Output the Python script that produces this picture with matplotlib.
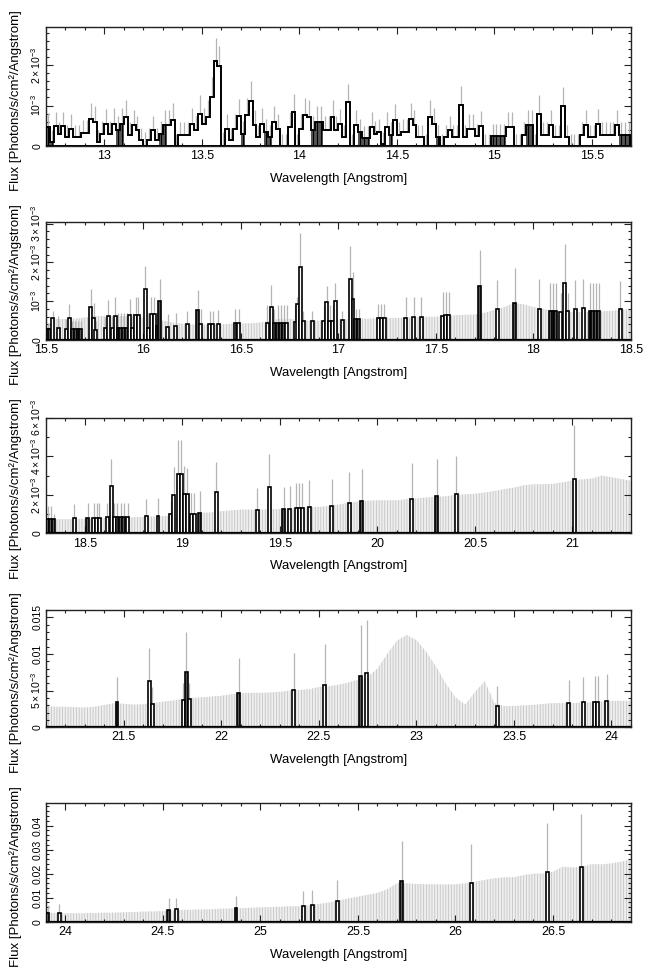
import numpy as np
import matplotlib
matplotlib.use('Agg')
import matplotlib.pyplot as plt
from matplotlib.ticker import MultipleLocator, FormatStrFormatter

plt.rcParams['font.family'] = ['Liberation Sans', 'DejaVu Sans']
plt.rcParams['mathtext.fontset'] = 'custom'
plt.rcParams['mathtext.rm'] = 'Liberation Sans'
plt.rcParams['mathtext.it'] = 'Liberation Sans:italic'
plt.rcParams['hatch.linewidth'] = 0.6

# all fluxes in units of 1e-3 photons/s/cm2/Angstrom
scale = 1e-3

# panel 1: fully binned spectrum, 0.02 A bins from 12.71 A
p1_flux = [0.47, 0.10, 0.49, 0.30, 0.49, 0.23, 0.43, 0.23, 0.23, 0.33,
           0.33, 0.66, 0.60, 0.10, 0.30, 0.54, 0.30, 0.55, 0.40, 0.55,
           0.72, 0.27, 0.51, 0.40, 0.15, 0.00, 0.15, 0.39, 0.15, 0.30,
           0.51, 0.51, 0.65, 0.00, 0.27, 0.27, 0.27, 0.55, 0.40, 0.80,
           0.55, 0.72, 1.20, 2.11, 1.98, 0.00, 0.43, 0.15, 0.43, 0.73,
           0.30, 0.76, 1.12, 0.51, 0.23, 0.55, 0.35, 0.23, 0.60, 0.43,
           0.00, 0.00, 0.47, 0.84, 0.00, 0.43, 0.76, 0.72, 0.39, 0.60,
           0.60, 0.39, 0.39, 0.72, 0.39, 0.54, 0.23, 1.08, 0.00, 0.51,
           0.35, 0.19, 0.19, 0.47, 0.30, 0.35, 0.06, 0.47, 0.27, 0.63,
           0.27, 0.35, 0.35, 0.67, 0.51, 0.21, 0.21, 0.00, 0.72, 0.55,
           0.21, 0.00, 0.21, 0.39, 0.21, 0.21, 1.02, 0.23, 0.43, 0.43,
           0.24, 0.49, 0.00, 0.00, 0.24, 0.24, 0.24, 0.24, 0.47, 0.47,
           0.00, 0.00, 0.27, 0.51, 0.51, 0.00, 0.80, 0.27, 0.27, 0.51,
           0.23, 0.23, 0.98, 0.23, 0.00, 0.00, 0.00, 0.27, 0.51, 0.23,
           0.23, 0.54, 0.27, 0.27, 0.27, 0.27, 0.51, 0.27, 0.27, 0.27]
p1_err = [.35, .30, .35, .30, .35, .30, .35, .30, .30, .32,
          .32, .40, .38, .30, .32, .38, .32, .38, .35, .38,
          .42, .32, .38, .35, .30, .35, .30, .35, .30, .32,
          .38, .38, .42, .30, .32, .32, .32, .38, .35, .45,
          .40, .42, .50, .55, .50, .35, .35, .30, .35, .42,
          .32, .42, .48, .38, .30, .38, .32, .30, .40, .35,
          .30, .30, .38, .45, .30, .35, .42, .42, .35, .40,
          .40, .35, .35, .42, .35, .38, .30, .45, .30, .38,
          .32, .30, .30, .38, .32, .32, .28, .38, .32, .40,
          .32, .32, .32, .40, .38, .30, .30, .30, .42, .38,
          .30, .30, .30, .35, .30, .30, .45, .30, .35, .35,
          .30, .38, .30, .30, .30, .30, .30, .30, .38, .38,
          .30, .30, .32, .38, .38, .30, .45, .32, .32, .38,
          .30, .30, .48, .30, .30, .30, .30, .32, .38, .30,
          .30, .38, .32, .32, .32, .32, .38, .32, .32, .32]
p1_dense = [0, 1, 18, 19, 29, 30, 50, 56, 57, 68, 69, 70, 80, 81, 82, 88,
            100, 101, 114, 115, 116, 117, 123, 124, 147, 148, 149]

# panels 2-5: detected bins (wavelength, flux, top of error bar, dense bin)
p2_wl = [15.51, 15.52, 15.535, 15.565, 15.605, 15.62, 15.635, 15.65, 15.665, 15.68,
         15.73, 15.745, 15.755, 15.805, 15.82, 15.84, 15.855, 15.87, 15.885, 15.90,
         15.915, 15.93, 15.945, 15.96, 15.975, 16.01, 16.025, 16.04, 16.055, 16.07,
         16.085, 16.125, 16.165, 16.225, 16.28, 16.295, 16.34, 16.355, 16.385, 16.47,
         16.49, 16.635, 16.655, 16.67, 16.69, 16.705, 16.72, 16.735, 16.78, 16.79,
         16.805, 16.82, 16.865, 16.925, 16.94, 16.955, 16.97, 16.985, 17.02, 17.06,
         17.075, 17.09, 17.105, 17.205, 17.22, 17.235, 17.345, 17.385, 17.425, 17.535,
         17.55, 17.565, 17.725, 17.815, 17.905, 18.03, 18.085, 18.10, 18.115, 18.14,
         18.16, 18.175, 18.215, 18.255, 18.29, 18.305, 18.32, 18.335, 18.445]
p2_flux = [0.28, 0.28, 0.56, 0.30, 0.28, 0.56, 0.28, 0.28, 0.28, 0.28,
           0.86, 0.58, 0.26, 0.30, 0.62, 0.32, 0.62, 0.32, 0.32, 0.32,
           0.32, 0.65, 0.32, 0.65, 0.65, 1.31, 0.32, 0.67, 0.67, 0.35,
           1.00, 0.33, 0.37, 0.41, 0.78, 0.41, 0.41, 0.41, 0.41, 0.43,
           0.43, 0.43, 0.86, 0.43, 0.45, 0.45, 0.45, 0.45, 0.47, 0.92,
           1.88, 0.49, 0.49, 0.49, 0.99, 0.49, 0.49, 1.00, 0.52, 1.58,
           1.06, 0.54, 0.54, 0.56, 0.56, 0.56, 0.58, 0.59, 0.60, 0.63,
           0.65, 0.65, 1.40, 0.80, 0.95, 0.80, 0.75, 0.75, 0.75, 0.72,
           1.46, 0.76, 0.80, 0.82, 0.75, 0.75, 0.75, 0.75, 0.79]
p2_top = [0.45, 0.45, 0.75, 0.62, 0.55, 0.92, 0.50, 0.50, 0.50, 0.50,
          1.31, 0.95, 0.50, 0.60, 1.02, 0.60, 1.10, 0.70, 0.70, 0.70,
          0.70, 1.06, 0.70, 1.10, 1.10, 1.90, 0.70, 1.10, 1.10, 0.70,
          1.57, 0.68, 0.70, 0.74, 1.29, 0.80, 0.76, 0.76, 0.78, 0.80,
          0.80, 0.90, 1.41, 0.80, 0.90, 0.90, 0.90, 0.90, 0.90, 1.10,
          2.75, 0.76, 0.76, 0.90, 1.40, 0.90, 0.90, 1.47, 0.76, 2.43,
          1.76, 0.80, 0.80, 0.93, 0.93, 0.93, 1.10, 1.10, 1.10, 1.23,
          1.23, 1.23, 2.33, 1.54, 1.86, 1.57, 1.46, 1.46, 1.46, 1.20,
          2.47, 1.20, 1.54, 1.57, 1.48, 1.48, 1.48, 1.48, 1.53]
p2_dense = [1, 1, 0, 0, 0, 0, 1, 1, 1, 1,
            0, 0, 0, 0, 0, 0, 0, 1, 1, 1,
            1, 0, 0, 0, 0, 0, 0, 0, 0, 1,
            1, 0, 0, 0, 1, 0, 0, 0, 0, 0,
            0, 0, 0, 0, 1, 1, 1, 0, 0, 0,
            0, 0, 0, 0, 0, 0, 0, 0, 0, 0,
            0, 1, 1, 0, 0, 0, 0, 0, 0, 0,
            0, 0, 1, 0, 1, 0, 1, 1, 1, 0,
            0, 0, 0, 0, 1, 1, 1, 1, 0]
p2_env = [0.30, 0.54, 0.54, 0.55, 0.58, 0.62, 0.62, 0.62, 0.62, 0.60,
          0.58, 0.54, 0.50, 0.45, 0.42, 0.40, 0.40, 0.40, 0.40, 0.42,
          0.43, 0.43, 0.45, 0.50, 0.55, 0.55, 0.50, 0.50, 0.50, 0.50,
          0.52, 0.54, 0.55, 0.55, 0.56, 0.57, 0.57, 0.58, 0.59, 0.60,
          0.60, 0.62, 0.64, 0.65, 0.66, 0.70, 0.78, 0.85, 0.95, 0.92,
          0.85, 0.80, 0.75, 0.73, 0.72, 0.72, 0.73, 0.74, 0.75, 0.78,
          0.80]

p3_wl = [18.31, 18.325, 18.34, 18.445, 18.515, 18.545, 18.56, 18.575, 18.615, 18.635,
         18.65, 18.665, 18.685, 18.70, 18.72, 18.815, 18.875, 18.94, 18.955, 18.98,
         18.995, 19.01, 19.025, 19.045, 19.06, 19.09, 19.175, 19.385, 19.445, 19.52,
         19.55, 19.585, 19.60, 19.615, 19.65, 19.765, 19.855, 19.92, 20.175, 20.305,
         20.405, 21.01]
p3_flux = [0.74, 0.74, 0.74, 0.78, 0.78, 0.81, 0.81, 0.81, 0.83, 2.45,
           0.83, 0.83, 0.83, 0.83, 0.83, 0.90, 0.91, 1.00, 2.02, 3.10,
           3.10, 2.03, 2.03, 1.03, 1.03, 1.07, 2.16, 1.20, 2.41, 1.26,
           1.28, 1.33, 1.33, 1.33, 1.38, 1.41, 1.59, 1.67, 1.81, 1.93,
           2.03, 2.83]
p3_top = [1.40, 1.40, 1.00, 1.53, 1.60, 1.60, 1.60, 1.60, 1.60, 3.86,
          1.60, 1.60, 1.60, 1.60, 1.60, 1.80, 1.85, 1.70, 3.44, 4.87,
          4.87, 3.50, 3.40, 2.10, 2.10, 2.20, 3.69, 2.35, 4.14, 2.43,
          2.45, 2.60, 2.60, 2.60, 2.75, 2.82, 3.17, 3.34, 3.65, 3.88,
          4.03, 5.60]
p3_dense = [1, 1, 1, 0, 1, 0, 0, 0, 0, 0,
            0, 0, 1, 1, 0, 0, 0, 0, 0, 0,
            0, 0, 0, 0, 0, 1, 0, 0, 0, 1,
            0, 0, 0, 0, 0, 0, 0, 1, 0, 1,
            0, 0]
p3_env = [0.74, 0.74, 0.74, 0.75, 0.76, 0.78, 0.80, 0.81, 0.82, 0.84,
          0.86, 0.88, 0.90, 0.95, 1.00, 1.03, 1.07, 1.10, 1.15, 1.20,
          1.24, 1.24, 1.24, 1.25, 1.27, 1.28, 1.32, 1.36, 1.38, 1.42,
          1.50, 1.58, 1.66, 1.70, 1.72, 1.72, 1.72, 1.78, 1.82, 1.87,
          1.90, 1.93, 2.00, 2.03, 2.06, 2.12, 2.20, 2.30, 2.38, 2.50,
          2.55, 2.56, 2.57, 2.65, 2.75, 2.80, 2.85, 3.00, 2.92, 2.82,
          2.73]

p4_wl = [21.465, 21.63, 21.645, 21.805, 21.82, 21.835, 22.09, 22.37, 22.53, 22.715,
         22.745, 23.415, 23.78, 23.855, 23.915, 23.93, 23.975]
p4_flux = [3.40, 6.35, 3.15, 3.75, 7.60, 3.85, 4.65, 5.10, 5.75, 7.00,
           7.35, 2.85, 3.30, 3.40, 3.50, 3.50, 3.65]
p4_top = [6.85, 10.8, 5.50, 6.00, 13.0, 6.00, 9.40, 10.1, 11.4, 13.9,
          14.7, 5.60, 6.50, 6.85, 7.00, 7.00, 7.26]
p4_dense = [1, 0, 0, 0, 1, 0, 1, 0, 0, 1,
            0, 0, 0, 0, 0, 0, 0]
p4_env = [2.90, 2.80, 2.80, 2.75, 2.70, 2.80, 3.05, 3.30, 3.20, 3.10,
          3.15, 3.30, 3.50, 3.65, 3.85, 4.00, 4.10, 4.20, 4.30, 4.50,
          4.65, 4.70, 4.70, 4.75, 4.85, 5.00, 5.10, 5.20, 5.50, 5.60,
          5.80, 6.10, 6.50, 6.90, 8.00, 10.0, 11.8, 12.6, 11.9, 10.3,
          8.30, 6.00, 4.10, 3.10, 4.80, 6.30, 3.30, 2.90, 2.90, 3.00,
          3.05, 3.20, 3.30, 3.30, 3.30, 3.40, 3.40, 3.50, 3.60, 3.60,
          3.60]

p5_wl = [23.91, 23.97, 24.53, 24.57, 24.875, 25.22, 25.265, 25.395, 25.725, 26.08,
         26.47, 26.645]
p5_flux = [3.75, 3.75, 4.90, 5.10, 5.80, 6.70, 6.80, 8.75, 16.9, 16.25,
           20.7, 22.6]
p5_top = [6.90, 7.20, 9.70, 10.0, 10.7, 12.9, 13.2, 17.4, 33.75, 32.4,
          41.0, 45.0]
p5_dense = [1, 0, 1, 0, 1, 0, 0, 0, 1, 0,
            0, 0]
p5_env = [3.75, 3.60, 3.50, 3.50, 3.50, 3.60, 3.75, 3.80, 3.90, 4.00,
          4.20, 4.30, 4.40, 4.70, 4.90, 5.00, 5.10, 5.20, 5.40, 5.50,
          5.60, 5.80, 6.00, 6.10, 6.25, 6.40, 6.50, 6.90, 7.40, 8.00,
          8.75, 9.70, 10.4, 11.2, 12.0, 13.5, 16.0, 16.0, 15.7, 15.6,
          15.6, 15.5, 15.6, 16.0, 16.7, 17.4, 18.1, 18.5, 18.5, 19.4,
          20.0, 20.1, 20.8, 22.9, 22.6, 22.9, 24.0, 23.9, 24.3, 25.0,
          26.0]

xlims = [(12.7, 15.7), (15.5, 18.5), (18.3, 21.3), (21.1, 24.1), (23.9, 26.9)]
ytop = [2.94e-3, 3.05e-3, 6.0e-3, 0.016, 0.0493]
yticks = [[0, 1e-3, 2e-3], [0, 1e-3, 2e-3, 3e-3], [0, 2e-3, 4e-3, 6e-3],
          [0, 5e-3, 0.01, 0.015], [0, 0.01, 0.02, 0.03, 0.04]]
ylabels = [['0', r'$10^{-3}$', r'$2\times10^{-3}$'],
           ['0', r'$10^{-3}$', r'$2\times10^{-3}$', r'$3\times10^{-3}$'],
           ['0', r'$2\times10^{-3}$', r'$4\times10^{-3}$', r'$6\times10^{-3}$'],
           ['0', r'$5\times10^{-3}$', '0.01', '0.015'],
           ['0', '0.01', '0.02', '0.03', '0.04']]
yminor = [2e-4, 2e-4, 1e-3, 1e-3, 2e-3]

W, H = 653, 972
tops = [27, 221.7, 417.7, 610, 803.3]
bottoms = [146, 340, 533.5, 727.3, 921.7]
left, right = 45.8, 631

fig = plt.figure(figsize=(W / 100, H / 100), dpi=100)
axes = []
for t, b in zip(tops, bottoms):
    axes.append(fig.add_axes([left / W, 1 - b / H, (right - left) / W, (b - t) / H]))

err_col = '#b4b4b4'
dense_col = '#555555'

# panel 1
ax = axes[0]
c1 = 12.71 + 0.02 * np.arange(len(p1_flux))
f1 = np.array(p1_flux) * scale
e1 = np.array(p1_err) * scale
ax.vlines(c1, f1, f1 + e1, color=err_col, lw=0.9, zorder=2)
ax.bar(c1[p1_dense], f1[p1_dense], width=0.02, color=dense_col, linewidth=0, zorder=3)
ax.vlines(c1[p1_dense], 0, f1[p1_dense], color='black', lw=0.8, zorder=3)
edges = np.append(c1 - 0.01, c1[-1] + 0.01)
ax.stairs(f1, edges, color='black', linewidth=1.4, zorder=4)
ax.axhline(0, color='black', lw=1.4, zorder=4)

# panels 2-5
sparse = [(p2_wl, p2_flux, p2_top, p2_dense, p2_env),
          (p3_wl, p3_flux, p3_top, p3_dense, p3_env),
          (p4_wl, p4_flux, p4_top, p4_dense, p4_env),
          (p5_wl, p5_flux, p5_top, p5_dense, p5_env)]
for k, (wl, fl, top, dense, env) in enumerate(sparse):
    ax = axes[k + 1]
    lo, hi = xlims[k + 1]
    ex = np.linspace(lo, hi, len(env))
    ax.fill_between(ex, 0, np.array(env) * scale, facecolor='#efefef',
                    edgecolor='#c4c4c4', hatch='||||||', linewidth=0, zorder=1)
    wl = np.array(wl)
    fl = np.array(fl) * scale
    top = np.array(top) * scale
    ax.vlines(wl, fl, top, color=err_col, lw=0.9, zorder=2)
    fc = [dense_col if d else 'white' for d in dense]
    ax.bar(wl, fl, width=0.015, facecolor=fc, edgecolor='black', linewidth=1.2, zorder=3)
    ax.axhline(0, color='black', lw=1.6, zorder=4)

for k, ax in enumerate(axes):
    ax.set_xlim(*xlims[k])
    ax.set_ylim(0, ytop[k])
    ax.xaxis.set_major_locator(MultipleLocator(0.5))
    ax.xaxis.set_minor_locator(MultipleLocator(0.1))
    ax.xaxis.set_major_formatter(FormatStrFormatter('%g'))
    ax.set_yticks(yticks[k])
    ax.set_yticklabels(ylabels[k])
    ax.yaxis.set_minor_locator(MultipleLocator(yminor[k]))
    ax.tick_params(which='both', direction='in', top=True, right=True,
                   width=0.8, color='#222222')
    ax.tick_params(axis='x', labelsize=9, pad=3)
    ax.tick_params(axis='y', labelsize=7.6, pad=2)
    ax.tick_params(which='major', length=5)
    ax.tick_params(which='minor', length=2.5)
    for lab in ax.get_yticklabels():
        lab.set_rotation(90)
        lab.set_va('center')
        lab.set_ha('right')
    for sp in ax.spines.values():
        sp.set_linewidth(1.0)
        sp.set_color('#222222')
    h = bottoms[k] - tops[k]
    ax.set_xlabel('Wavelength [Angstrom]', fontsize=9.5)
    ax.xaxis.set_label_coords(0.5, -27 / h)
    ax.set_ylabel('Flux [Photons/s/cm²/Angstrom]', fontsize=9.5)
    ax.yaxis.set_label_coords(-0.04, 0.385)

fig.savefig('out.png', dpi=100)
